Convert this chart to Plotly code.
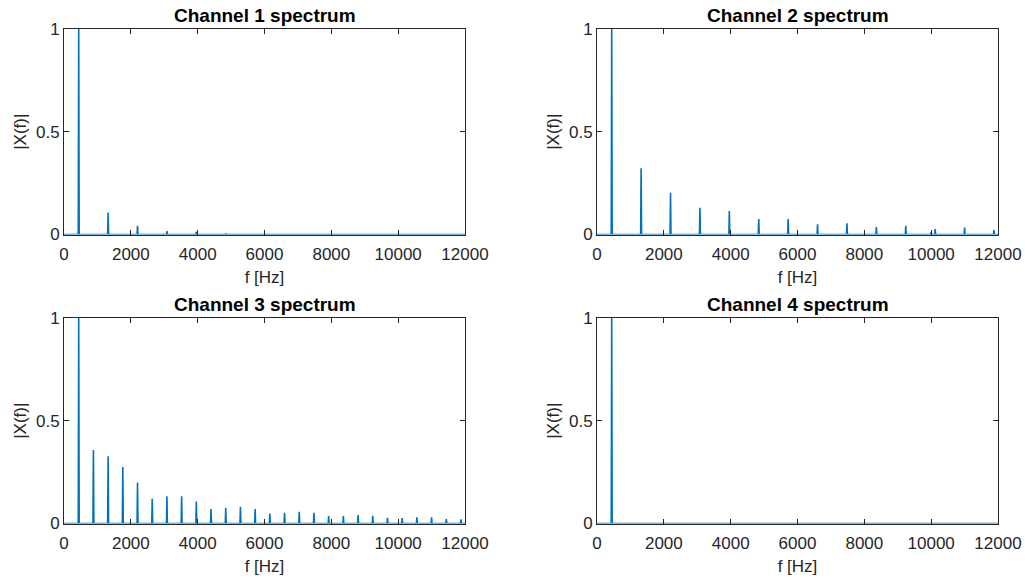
import plotly.graph_objects as go

# Data: harmonic frequencies (Hz) and normalized magnitudes
ch1_freq = [440, 1320, 2200, 3080, 3960, 4840]
ch1_amp = [1.0, 0.107, 0.042, 0.017, 0.013, 0.005]

ch2_freq = [440, 1320, 2200, 3080, 3960, 4840, 5720, 6600, 7480, 8360, 9240, 10000, 10120, 11000, 11880]
ch2_amp = [1.0, 0.322, 0.203, 0.130, 0.114, 0.075, 0.075, 0.050, 0.055, 0.036, 0.042, 0.012, 0.026, 0.034, 0.021]

ch3_freq = [440, 880, 1320, 1760, 2200, 2640, 3080, 3520, 3960, 4400, 4840, 5280, 5720,
            6160, 6600, 7040, 7480, 7920, 8360, 8800, 9240, 9680, 10120, 10560, 11000, 11440, 11880]
ch3_amp = [1.0, 0.358, 0.327, 0.275, 0.200, 0.120, 0.132, 0.132, 0.107, 0.070, 0.076, 0.081, 0.070,
           0.049, 0.052, 0.057, 0.052, 0.036, 0.036, 0.041, 0.037, 0.028, 0.026, 0.030, 0.030, 0.021, 0.020]

ch4_freq = [440]
ch4_amp = [1.0]

titles = ["Channel 1 spectrum", "Channel 2 spectrum", "Channel 3 spectrum", "Channel 4 spectrum"]
x_ticks = [0, 2000, 4000, 6000, 8000, 10000, 12000]
y_ticks = [0, 0.5, 1]
x_range = [0, 12000]
y_range = [0, 1]

LINE = "#0072BD"
AX = "#262626"
FONT = "Liberation Sans, Arial, Helvetica, sans-serif"

def spectrum_line(freqs, amps, fmax=12000, half=14):
    xs, ys = [0], [0]
    for f, a in zip(freqs, amps):
        xs += [f - half, f, f + half]
        ys += [0, a, 0]
    xs.append(fmax)
    ys.append(0)
    return xs, ys

channels = [(ch1_freq, ch1_amp), (ch2_freq, ch2_amp), (ch3_freq, ch3_amp), (ch4_freq, ch4_amp)]

W, H = 1025, 581
# plot boxes in pixels (left, right, top, bottom)
boxes = [(64, 465, 29, 234.5), (597, 998, 29, 234.5), (64, 465, 318, 523.5), (597, 998, 318, 523.5)]

fig = go.Figure()
layout = {}
for i, ((fr, am), box) in enumerate(zip(channels, boxes)):
    n = "" if i == 0 else str(i + 1)
    xs, ys = spectrum_line(fr, am)
    fig.add_trace(go.Scatter(x=xs, y=ys, mode="lines", line=dict(color=LINE, width=1.6),
                             xaxis="x" + n, yaxis="y" + n, showlegend=False, hoverinfo="skip"))
    l, r, t, b = box
    common = dict(showline=True, linecolor=AX, linewidth=1, mirror="ticks", ticks="inside",
                  ticklen=5, tickcolor=AX, showgrid=False, zeroline=False, automargin=False,
                  tickfont=dict(family=FONT, size=17, color=AX))
    layout["xaxis" + n] = dict(domain=[l / W, r / W], anchor="y" + n, range=x_range,
                               tickvals=x_ticks, ticktext=[str(v) for v in x_ticks],
                               ticklabelstandoff=4,
                               title=dict(text="f [Hz]", font=dict(family=FONT, size=17, color=AX), standoff=8),
                               **common)
    layout["yaxis" + n] = dict(domain=[1 - b / H, 1 - t / H], anchor="x" + n, range=y_range,
                               tickvals=y_ticks, ticktext=["0", "0.5", "1"],
                               title=dict(text="|X(f)|", font=dict(family=FONT, size=17, color=AX), standoff=5),
                               **common)
    fig.add_annotation(text="<b>" + titles[i] + "</b>", xref="paper", yref="paper",
                       x=(l + r) / 2 / W, y=1 - t / H, yanchor="bottom", xanchor="center",
                       showarrow=False, yshift=1,
                       font=dict(family=FONT, size=19, color="#000000"))

fig.update_layout(width=W, height=H, margin=dict(l=0, r=0, t=0, b=0),
                  paper_bgcolor="white", plot_bgcolor="white", **layout)
fig.write_html("out.html", config={"displayModeBar": False},
               post_script="document.body.style.margin='0';document.body.style.overflow='hidden';")
